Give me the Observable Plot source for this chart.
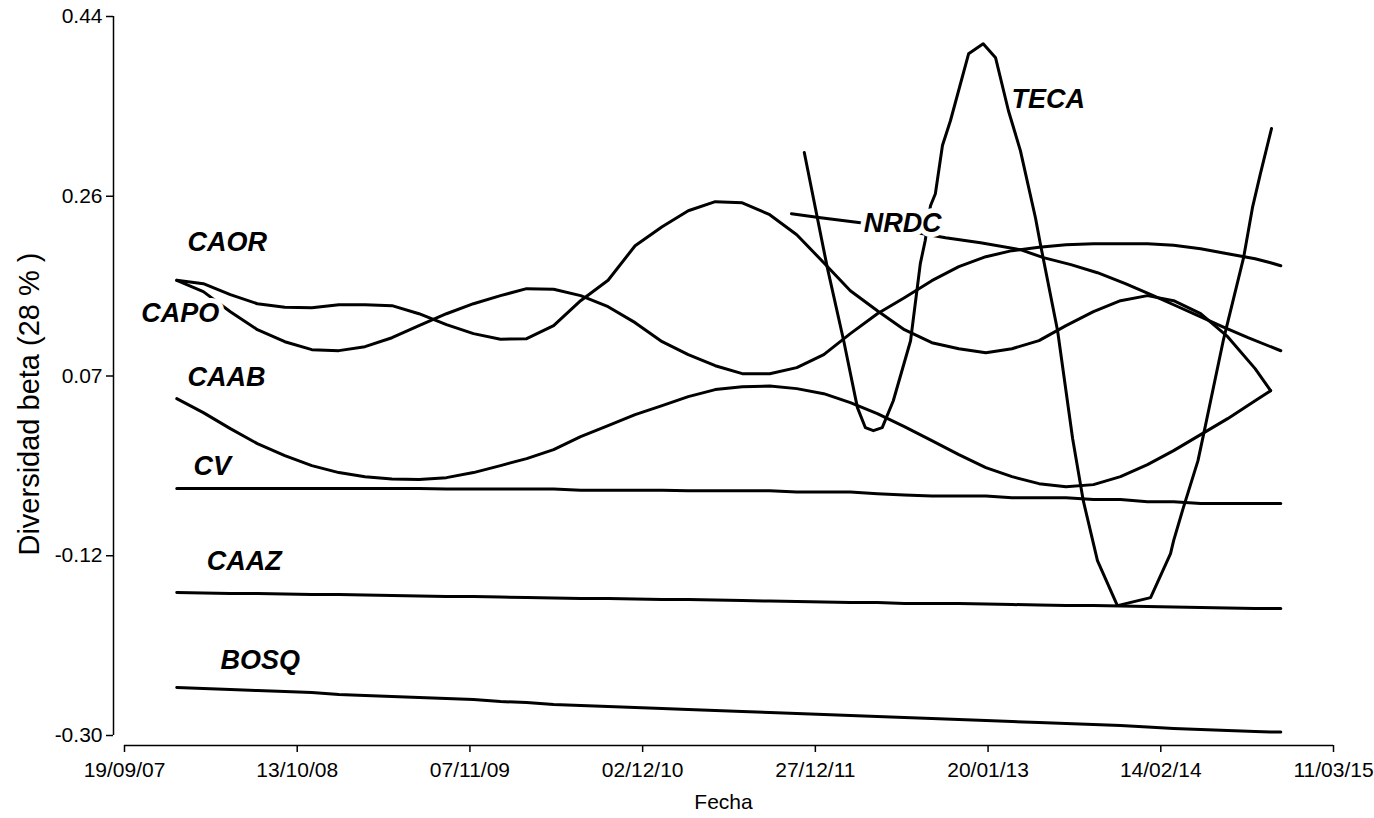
<!DOCTYPE html>
<html>
<head>
<meta charset="utf-8">
<script src="https://cdn.jsdelivr.net/npm/d3@7"></script>
<script src="https://cdn.jsdelivr.net/npm/@observablehq/plot@0.6"></script>
<style>
  html, body { margin: 0; padding: 0; background: #fff; }
</style>
</head>
<body>
<div id="chart"></div>
<script>
// ---- Data ----
const fechas = ["2008-01-15","2008-03-15","2008-05-15","2008-07-15","2008-09-15","2008-11-15",
  "2009-01-15","2009-03-15","2009-05-15","2009-07-15","2009-09-15","2009-11-15",
  "2010-01-15","2010-03-15","2010-05-15","2010-07-15","2010-09-15","2010-11-15",
  "2011-01-15","2011-03-15","2011-05-15","2011-07-15","2011-09-15","2011-11-15",
  "2012-01-15","2012-03-15","2012-05-15","2012-07-15","2012-09-15","2012-11-15",
  "2013-01-15","2013-03-15","2013-05-15","2013-07-15","2013-09-15","2013-11-15",
  "2014-01-15","2014-03-15","2014-05-15","2014-07-15","2014-09-15","2014-10-20","2014-11-12"];

const caor = [0.1685,0.1650,0.1537,0.1444,0.1408,0.1403,0.1434,0.1434,0.1424,0.1341,0.1228,0.1136,0.1079,0.1084,0.1218,0.1475,0.1685,0.2041,0.2236,0.2401,0.2494,0.2483,0.2360,0.2154,0.1866,0.1578,0.1372,0.1177,0.1043,0.0981,0.0940,0.0981,0.1064,0.1218,0.1362,0.1475,0.1527,0.1475,0.1341,0.1105,0.0776,0.0549,null];
const capo = [0.1685,0.1568,0.1362,0.1177,0.1053,0.0971,0.0961,0.1002,0.1094,0.1218,0.1341,0.1444,0.1527,0.1599,0.1593,0.1527,0.1413,0.1249,0.1053,0.0920,0.0806,0.0724,0.0724,0.0786,0.0920,0.1136,0.1341,0.1506,0.1681,0.1825,0.1928,0.1990,0.2026,0.2051,0.2062,0.2062,0.2062,0.2046,0.2010,0.1959,0.1907,0.1866,0.1835];
const caab = [0.0467,0.0323,0.0158,0.0004,-0.0120,-0.0222,-0.0294,-0.0336,-0.0361,-0.0366,-0.0346,-0.0294,-0.0222,-0.0150,-0.0058,0.0076,0.0189,0.0302,0.0395,0.0488,0.0560,0.0590,0.0596,0.0570,0.0518,0.0426,0.0313,0.0179,0.0035,-0.0109,-0.0243,-0.0336,-0.0408,-0.0439,-0.0418,-0.0336,-0.0212,-0.0068,0.0097,0.0261,0.0446,0.0549,null];
const cv = [-0.0459,-0.0459,-0.0459,-0.0459,-0.0459,-0.0459,-0.0459,-0.0459,-0.0459,-0.0459,-0.0464,-0.0464,-0.0464,-0.0464,-0.0464,-0.0475,-0.0475,-0.0475,-0.0475,-0.0480,-0.0480,-0.0480,-0.0480,-0.0495,-0.0495,-0.0495,-0.0511,-0.0526,-0.0536,-0.0536,-0.0536,-0.0552,-0.0552,-0.0552,-0.0572,-0.0572,-0.0593,-0.0593,-0.0613,-0.0613,-0.0613,-0.0613,-0.0613];
const caaz = [-0.1529,-0.1534,-0.1539,-0.1539,-0.1544,-0.1550,-0.1550,-0.1555,-0.1560,-0.1565,-0.1570,-0.1570,-0.1575,-0.1580,-0.1585,-0.1591,-0.1591,-0.1596,-0.1601,-0.1601,-0.1606,-0.1611,-0.1616,-0.1621,-0.1627,-0.1632,-0.1632,-0.1642,-0.1642,-0.1642,-0.1647,-0.1652,-0.1657,-0.1663,-0.1663,-0.1668,-0.1673,-0.1678,-0.1683,-0.1688,-0.1693,-0.1693,-0.1693];
const bosq = [-0.2506,-0.2517,-0.2527,-0.2537,-0.2548,-0.2558,-0.2579,-0.2589,-0.2599,-0.2609,-0.2620,-0.2630,-0.2651,-0.2661,-0.2682,-0.2692,-0.2702,-0.2712,-0.2723,-0.2733,-0.2743,-0.2754,-0.2764,-0.2774,-0.2784,-0.2795,-0.2805,-0.2815,-0.2826,-0.2836,-0.2846,-0.2856,-0.2867,-0.2877,-0.2887,-0.2898,-0.2913,-0.2928,-0.2939,-0.2949,-0.2959,-0.2964,-0.2964];

const tecaFechas = ["2011-12-02","2012-01-23","2012-02-29","2012-03-31","2012-04-18","2012-05-06","2012-05-26","2012-06-20","2012-07-29","2012-08-20","2012-08-31","2012-09-12","2012-09-23","2012-10-09","2012-10-27","2012-12-07","2013-01-09","2013-02-06","2013-03-07","2013-04-03","2013-05-07","2013-05-18","2013-06-26","2013-07-30","2013-08-23","2013-09-24","2013-11-08","2014-01-22","2014-03-08","2014-03-15","2014-04-06","2014-05-09","2014-05-22","2014-07-05","2014-08-20","2014-09-09","2014-09-27","2014-10-22"];
const teca = [0.3000,0.1815,0.1063,0.0374,0.0168,0.0137,0.0168,0.0445,0.1063,0.1856,0.2092,0.2452,0.2576,0.3072,0.3327,0.4016,0.4119,0.3975,0.3430,0.3020,0.2329,0.2061,0.1166,0.0054,-0.0583,-0.1200,-0.1663,-0.1581,-0.1128,-0.0994,-0.0654,-0.0171,0.0107,0.1063,0.1918,0.2432,0.2782,0.3247];

const nrdcFechas = ["2011-11-03","2012-01-08","2012-04-07","2012-07-06","2012-10-16","2013-01-03","2013-04-03","2013-05-25","2013-07-26","2013-09-24","2013-11-26","2014-01-28","2014-03-20","2014-05-09","2014-07-03","2014-08-30","2014-11-12"];
const nrdc = [0.2370,0.2329,0.2278,0.2206,0.2123,0.2072,0.2000,0.1918,0.1846,0.1763,0.1650,0.1526,0.1423,0.1321,0.1208,0.1094,0.0960];

const etiquetaNombres = ["CAOR","CAPO","CAAB","CV","CAAZ","BOSQ","NRDC","TECA"];
const etiquetaFechas = ["2008-02-08","2007-10-27","2008-02-08","2008-02-22","2008-03-23","2008-04-23","2012-04-14","2013-03-14"];
const etiquetaValores = [0.2072,0.1347,0.0683,-0.0233,-0.1210,-0.2229,0.2267,0.3543];

const xTickFechas = ["2007-09-19","2008-10-13","2009-11-07","2010-12-02","2011-12-27","2013-01-20","2014-02-14","2015-03-11"];
const yTicks = [0.44, 0.255, 0.07, -0.115, -0.30];
const yTickLabels = ["0.44","0.26","0.07","-0.12","-0.30"];
const tituloX = "Fecha";
const tituloY = "Diversidad beta (28 % )";

// ---- Build tidy tables ----
const parse = s => new Date(s + "T00:00:00Z");
const seriesGrid = [["CAOR", caor], ["CAPO", capo], ["CAAB", caab], ["CV", cv], ["CAAZ", caaz], ["BOSQ", bosq]];
const filas = [];
for (const [nombre, vals] of seriesGrid) {
  fechas.forEach((f, i) => filas.push({serie: nombre, fecha: parse(f), valor: vals[i]}));
}
tecaFechas.forEach((f, i) => filas.push({serie: "TECA", fecha: parse(f), valor: teca[i]}));
nrdcFechas.forEach((f, i) => filas.push({serie: "NRDC", fecha: parse(f), valor: nrdc[i]}));

const etiquetas = etiquetaNombres.map((n, i) => ({nombre: n, fecha: parse(etiquetaFechas[i]), valor: etiquetaValores[i]}));

const xTicks = xTickFechas.map(parse);
const xDomain = [xTicks[0], xTicks[xTicks.length - 1]];
const yDomain = [yTicks[yTicks.length - 1], yTicks[0]];
const fmt = d3.utcFormat("%d/%m/%y");

const chart = Plot.plot({
  width: 1374,
  height: 818,
  marginLeft: 113,
  marginRight: 41,
  marginTop: 16,
  marginBottom: 73,
  x: {type: "utc", domain: xDomain, insetLeft: 11},
  y: {domain: yDomain, insetBottom: 10},
  style: {fontFamily: "'Liberation Sans', Arial, sans-serif", fontSize: "21px", color: "black", background: "white"},
  marks: [
    Plot.axisY({
      ticks: yTicks,
      tickFormat: d => yTickLabels[yTicks.indexOf(d)],
      tickSize: 7,
      tickPadding: 4,
      strokeWidth: 1.5,
      fontSize: 21,
      label: null
    }),
    Plot.axisX({
      ticks: xTicks,
      tickFormat: fmt,
      tickSize: 7,
      tickPadding: 10,
      strokeWidth: 1.5,
      fontSize: 21,
      label: tituloX,
      labelAnchor: "center",
      labelArrow: "none",
      labelOffset: 63
    }),
    Plot.text([tituloY], {
      frameAnchor: "left", rotate: -90, dx: -84, dy: 23,
      textAnchor: "middle", lineAnchor: "middle", fontSize: 29, fill: "black"
    }),
    Plot.ruleX([xDomain[0]], {y1: yDomain[0], y2: yDomain[1], dx: -11, stroke: "black", strokeWidth: 1.5}),
    Plot.ruleY([yDomain[0]], {x1: xDomain[0], x2: xDomain[1], dy: 10, stroke: "black", strokeWidth: 1.5}),
    Plot.line(filas, {x: "fecha", y: "valor", z: "serie", stroke: "black", strokeWidth: 3, strokeLinejoin: "round"}),
    Plot.text(etiquetas, {
      x: "fecha", y: "valor", text: "nombre",
      textAnchor: "start",
      fontSize: 27, fontWeight: "bold", fontStyle: "italic",
      fill: "black", stroke: "white", strokeWidth: 10
    })
  ]
});

document.getElementById("chart").appendChild(chart);
</script>
</body>
</html>
